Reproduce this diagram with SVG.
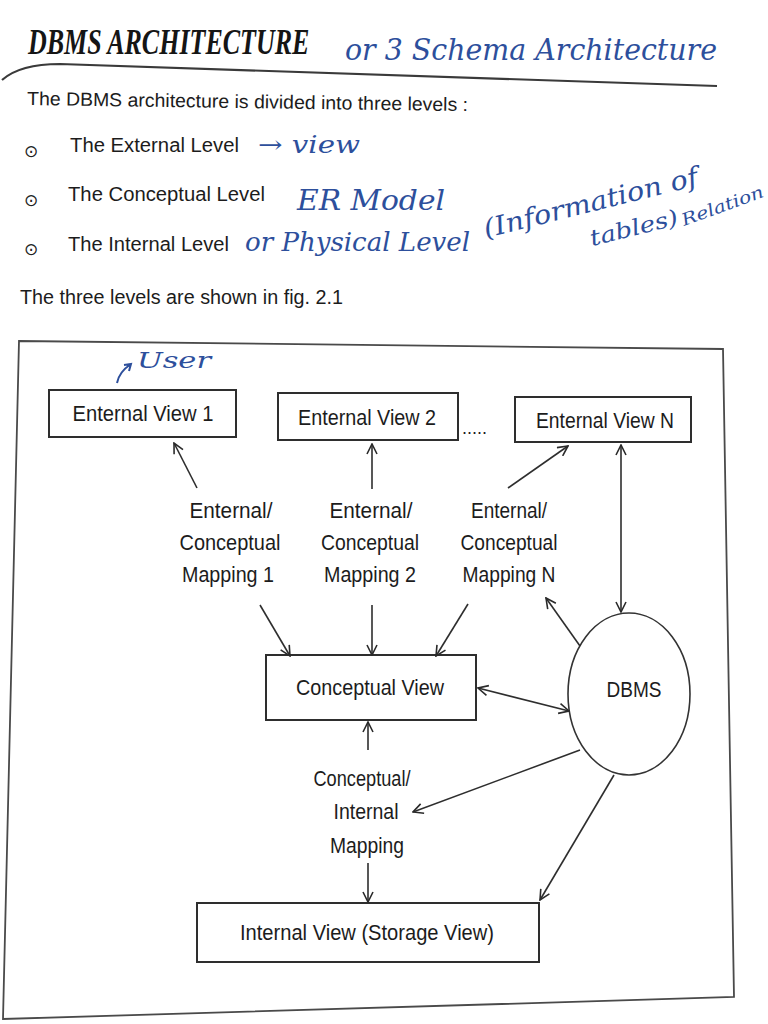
<svg xmlns="http://www.w3.org/2000/svg" width="768" height="1024" viewBox="0 0 768 1024">
<defs>
<marker id="ah" viewBox="0 0 12 12" refX="11" refY="6" markerWidth="12" markerHeight="12" markerUnits="userSpaceOnUse" orient="auto-start-reverse">
<path d="M1,1 L11,6 L1,11" fill="none" stroke="#2a2a2a" stroke-width="1.6"/>
</marker>
<style>
.t{font-family:"Liberation Sans",Arial,sans-serif;fill:#1c1c1c}
.n{font-family:"Liberation Sans",Arial,sans-serif;fill:#1c1c1c;font-size:22px;text-anchor:middle}
.box{fill:#fff;stroke:#2e2e2e;stroke-width:2}
.ln{stroke:#2e2e2e;stroke-width:1.6;fill:none}
.hw{font-family:"DejaVu Serif","Liberation Serif",serif;font-style:italic;fill:#2d4f9c}
.b{font-family:"DejaVu Sans",sans-serif;font-size:17px;fill:#222}
</style>
</defs>
<rect width="768" height="1024" fill="#ffffff"/>

<g id="header">
<text transform="translate(28,54) scale(1,1.35)" x="0" y="0" font-family="Liberation Serif,serif" font-weight="bold" font-style="italic" font-size="26" fill="#151515">DBMS ARCHITECTURE</text>
<text class="hw" x="345" y="60" font-size="30" textLength="372" lengthAdjust="spacingAndGlyphs">or 3 Schema Architecture</text>
<path d="M2,80 Q20,64 60,64 L717,86" fill="none" stroke="#3a3a3a" stroke-width="2.2"/>
<text class="t" x="27" y="105" font-size="19" textLength="441" lengthAdjust="spacingAndGlyphs" transform="rotate(0.8 27 105)">The DBMS architecture is divided into three levels :</text>
</g>

<g id="levels">
<text class="b" x="24" y="157">⊙</text>
<text class="b" x="24" y="206">⊙</text>
<text class="b" x="24" y="255">⊙</text>
<text class="t" x="70" y="152" font-size="20" textLength="169" lengthAdjust="spacingAndGlyphs">The External Level</text>
<text class="t" x="68" y="201" font-size="20" textLength="197" lengthAdjust="spacingAndGlyphs">The Conceptual Level</text>
<text class="t" x="68" y="251" font-size="20" textLength="161" lengthAdjust="spacingAndGlyphs">The Internal Level</text>
<text class="hw" x="258" y="153" font-size="24" textLength="102" lengthAdjust="spacingAndGlyphs">→ view</text>
<text class="hw" x="297" y="210" font-size="28" textLength="148" lengthAdjust="spacingAndGlyphs">ER Model</text>
<text class="hw" x="245" y="251" font-size="26" textLength="225" lengthAdjust="spacingAndGlyphs">or Physical Level</text>
<text class="hw" x="486" y="238" font-size="26" textLength="220" lengthAdjust="spacingAndGlyphs" transform="rotate(-14 486 238)">(Information of</text>
<text class="hw" x="592" y="246" font-size="22" textLength="90" lengthAdjust="spacingAndGlyphs" transform="rotate(-14 592 246)">tables)</text>
<text class="hw" x="684" y="226" font-size="17" textLength="86" lengthAdjust="spacingAndGlyphs" transform="rotate(-20 684 226)">Relation</text>
<text class="t" x="20" y="304" font-size="20" textLength="323" lengthAdjust="spacingAndGlyphs">The three levels are shown in fig. 2.1</text>
</g>

<polygon id="frame" points="19,341 723,349 734,997 3,1019" fill="none" stroke="#4a4a4a" stroke-width="1.8"/>

<g id="user-note">
<path d="M117,383 Q119,372 131,364 M124,365 L131,364 L129,371" fill="none" stroke="#2d4f9c" stroke-width="2"/>
<text class="hw" x="137" y="368" font-size="22" textLength="74" lengthAdjust="spacingAndGlyphs">User</text>
</g>

<g id="ev1"><rect class="box" x="49" y="390" width="187" height="47"/><text class="n" x="143" y="421" textLength="141" lengthAdjust="spacingAndGlyphs">Enternal View 1</text></g>
<g id="ev2"><rect class="box" x="278" y="393" width="180" height="47"/><text class="n" x="367" y="425" textLength="138" lengthAdjust="spacingAndGlyphs">Enternal View 2</text></g>
<text class="t" x="462" y="434" font-size="18">.....</text>
<g id="evn"><rect class="box" x="515" y="397" width="176" height="45"/><text class="n" x="605" y="428" textLength="138" lengthAdjust="spacingAndGlyphs">Enternal View N</text></g>

<g id="map1"><text class="n"><tspan x="231" y="518" textLength="83" lengthAdjust="spacingAndGlyphs">Enternal/</tspan><tspan x="230" y="550" textLength="101" lengthAdjust="spacingAndGlyphs">Conceptual</tspan><tspan x="228" y="582" textLength="92" lengthAdjust="spacingAndGlyphs">Mapping 1</tspan></text></g>
<g id="map2"><text class="n"><tspan x="371" y="518" textLength="83" lengthAdjust="spacingAndGlyphs">Enternal/</tspan><tspan x="370" y="550" textLength="98" lengthAdjust="spacingAndGlyphs">Conceptual</tspan><tspan x="370" y="582" textLength="92" lengthAdjust="spacingAndGlyphs">Mapping 2</tspan></text></g>
<g id="mapn"><text class="n"><tspan x="509" y="518" textLength="76" lengthAdjust="spacingAndGlyphs">Enternal/</tspan><tspan x="509" y="550" textLength="97" lengthAdjust="spacingAndGlyphs">Conceptual</tspan><tspan x="509" y="582" textLength="93" lengthAdjust="spacingAndGlyphs">Mapping N</tspan></text></g>

<g id="cv"><rect class="box" x="266" y="655" width="210" height="65"/><text class="n" x="370" y="695" textLength="148" lengthAdjust="spacingAndGlyphs">Conceptual View</text></g>

<g id="dbms"><ellipse cx="629" cy="694" rx="61" ry="81" fill="#fff" stroke="#333" stroke-width="1.6"/><text class="n" x="634" y="697" font-size="20" textLength="55" lengthAdjust="spacingAndGlyphs">DBMS</text></g>

<g id="cim"><text class="n"><tspan x="362" y="786" textLength="97" lengthAdjust="spacingAndGlyphs">Conceptual/</tspan><tspan x="366" y="819" textLength="65" lengthAdjust="spacingAndGlyphs">Internal</tspan><tspan x="367" y="853" textLength="74" lengthAdjust="spacingAndGlyphs">Mapping</tspan></text></g>

<g id="iv"><rect class="box" x="197" y="903" width="342" height="59"/><text class="n" x="367" y="940" textLength="254" lengthAdjust="spacingAndGlyphs">Internal View (Storage View)</text></g>

<g id="connectors">
<line class="ln" x1="197" y1="488" x2="174" y2="443" marker-end="url(#ah)"/>
<line class="ln" x1="372" y1="489" x2="372" y2="444" marker-end="url(#ah)"/>
<line class="ln" x1="508" y1="488" x2="568" y2="446" marker-end="url(#ah)"/>
<line class="ln" x1="621" y1="612" x2="621" y2="445" marker-start="url(#ah)" marker-end="url(#ah)"/>
<line class="ln" x1="260" y1="605" x2="290" y2="656" marker-end="url(#ah)"/>
<line class="ln" x1="372" y1="605" x2="372" y2="655" marker-end="url(#ah)"/>
<line class="ln" x1="468" y1="604" x2="436" y2="656" marker-end="url(#ah)"/>
<line class="ln" x1="580" y1="646" x2="546" y2="598" marker-end="url(#ah)"/>
<line class="ln" x1="478" y1="688" x2="569" y2="711" marker-start="url(#ah)" marker-end="url(#ah)"/>
<line class="ln" x1="368" y1="750" x2="368" y2="722" marker-end="url(#ah)"/>
<line class="ln" x1="580" y1="750" x2="413" y2="812" marker-end="url(#ah)"/>
<line class="ln" x1="368" y1="863" x2="368" y2="902" marker-end="url(#ah)"/>
<line class="ln" x1="614" y1="775" x2="540" y2="900" marker-end="url(#ah)"/>
</g>
</svg>
